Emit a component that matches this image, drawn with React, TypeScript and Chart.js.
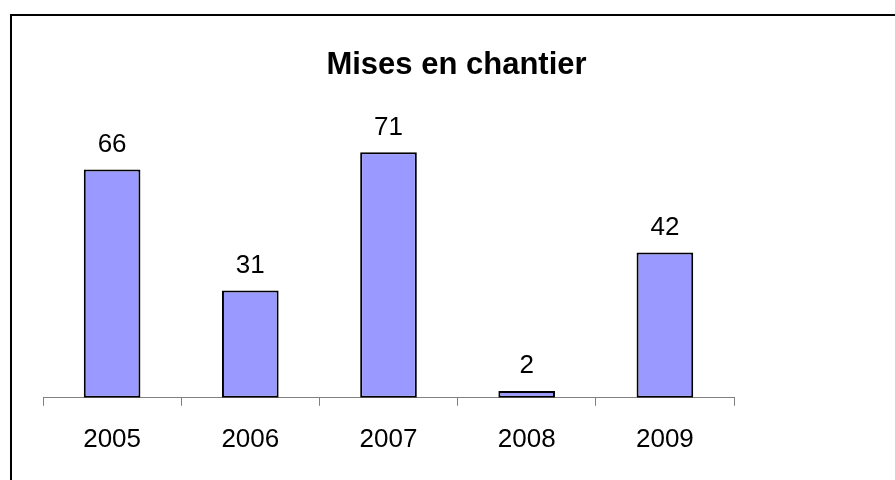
import React, { useEffect, useRef } from "react";
import { Chart, registerables } from "chart.js";

Chart.register(...registerables);

const TITLE = "Mises en chantier";
const years = ["2005", "2006", "2007", "2008", "2009"];
const starts = [66, 31, 71, 2, 42];
const yAxisMax = 80;

const FONT = "'Liberation Sans', Arial, sans-serif";

const framePlugin = {
  id: "frame",
  beforeDraw(chart: any) {
    const ctx = chart.ctx;
    ctx.save();
    ctx.fillStyle = "#ffffff";
    ctx.fillRect(0, 0, chart.width, chart.height);
    ctx.fillStyle = "#000000";
    ctx.fillRect(10, 14, chart.width - 10, 2);
    ctx.fillRect(10, 14, 2, chart.height - 14);
    ctx.restore();
  },
};

const titlePlugin = {
  id: "customTitle",
  afterDraw(chart: any) {
    const ctx = chart.ctx;
    ctx.save();
    ctx.fillStyle = "#000000";
    ctx.font = `bold 31px ${FONT}`;
    ctx.textAlign = "center";
    ctx.textBaseline = "alphabetic";
    ctx.fillText(TITLE, 456.5, 73.5);
    ctx.restore();
  },
};

const valueLabels = {
  id: "valueLabels",
  afterDatasetsDraw(chart: any) {
    const ctx = chart.ctx;
    const meta = chart.getDatasetMeta(0);
    ctx.save();
    ctx.fillStyle = "#000000";
    ctx.font = `26px ${FONT}`;
    ctx.textAlign = "center";
    ctx.textBaseline = "alphabetic";
    meta.data.forEach((bar: any, i: number) => {
      ctx.fillText(String(starts[i]), bar.x, bar.y - 17.5);
    });
    ctx.restore();
  },
};

export default function App() {
  const ref = useRef<HTMLCanvasElement>(null);
  useEffect(() => {
    if (!ref.current) return;
    const chart = new Chart(ref.current, {
      type: "bar",
      data: {
        labels: years,
        datasets: [
          {
            data: starts,
            backgroundColor: "#9999FF",
            borderColor: "#000000",
            borderWidth: 2,
            borderSkipped: false,
            barPercentage: 0.41,
            categoryPercentage: 1,
          },
        ],
      },
      options: {
        responsive: false,
        animation: false,
        events: [],
        layout: { padding: { top: 121, left: 43, right: 161, bottom: 7 } },
        plugins: {
          legend: { display: false },
          title: { display: false },
          tooltip: { enabled: false },
        },
        scales: {
          x: {
            offset: true,
            grid: {
              offset: true,
              drawOnChartArea: false,
              drawTicks: true,
              tickLength: 8,
              color: "#808080",
              lineWidth: 1,
            },
            border: { display: true, color: "#808080", width: 1 },
            ticks: {
              color: "#000000",
              font: { family: FONT, size: 26 },
              padding: 18,
              maxRotation: 0,
            },
          },
          y: {
            display: false,
            min: 0,
            max: yAxisMax,
          },
        },
      },
      plugins: [framePlugin, titlePlugin, valueLabels],
    });
    return () => chart.destroy();
  }, []);
  return (
    <div style={{ position: "absolute", left: 0, top: 0, width: 895, height: 480, overflow: "hidden" }}>
      <canvas ref={ref} width={895} height={480} style={{ width: 895, height: 480, display: "block" }} />
    </div>
  );
}
